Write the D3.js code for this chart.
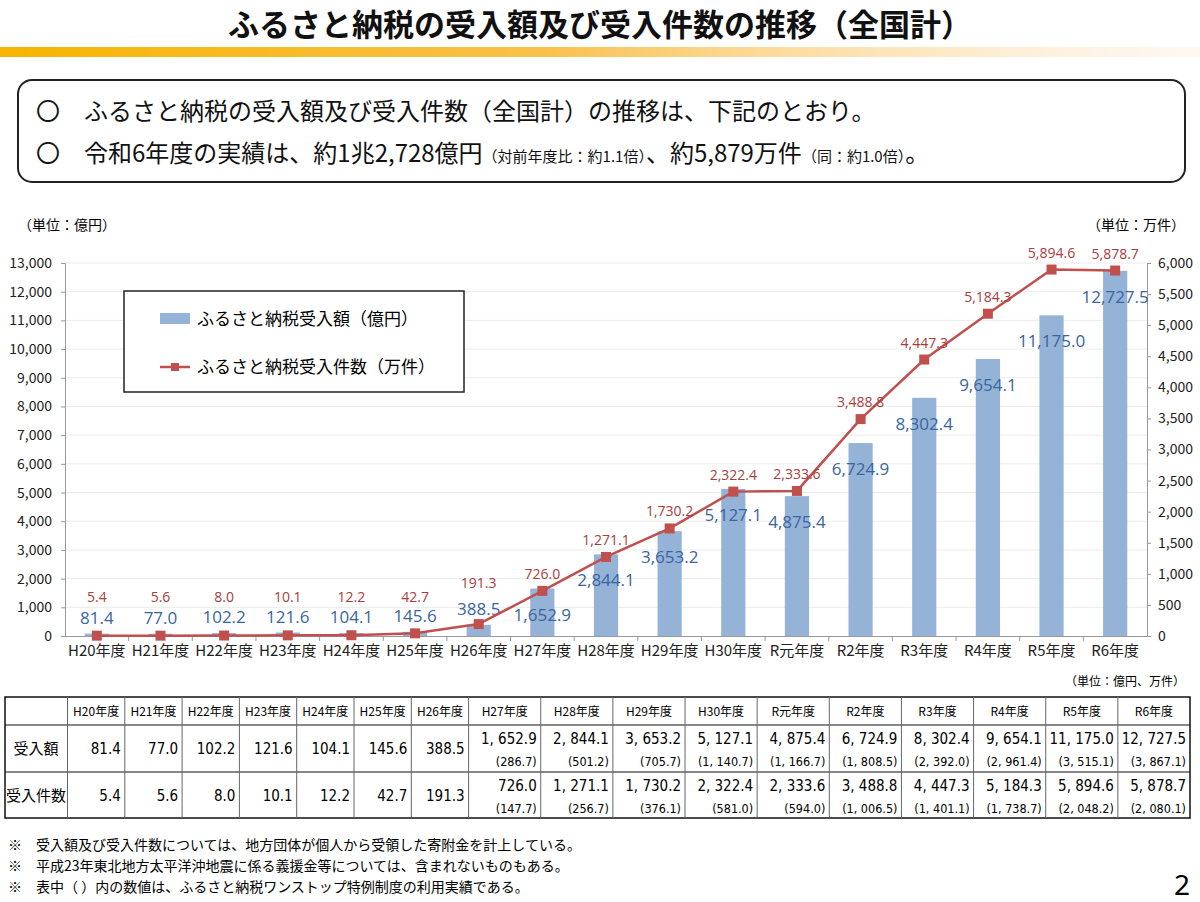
<!DOCTYPE html>
<html><head><meta charset="utf-8">
<script src="https://cdn.jsdelivr.net/npm/d3@7/dist/d3.min.js"></script>
<style>
body{margin:0;background:#fff;font-family:"Noto Sans CJK JP","Noto Sans",sans-serif;}
</style></head>
<body><div id="chart"></div>
<script>
// ふるさと納税 受入額・件数（全国計）
const data = [
  {year:'H20年度', amount:81.4,    count:5.4,    amountOs:null,   countOs:null},
  {year:'H21年度', amount:77.0,    count:5.6,    amountOs:null,   countOs:null},
  {year:'H22年度', amount:102.2,   count:8.0,    amountOs:null,   countOs:null},
  {year:'H23年度', amount:121.6,   count:10.1,   amountOs:null,   countOs:null},
  {year:'H24年度', amount:104.1,   count:12.2,   amountOs:null,   countOs:null},
  {year:'H25年度', amount:145.6,   count:42.7,   amountOs:null,   countOs:null},
  {year:'H26年度', amount:388.5,   count:191.3,  amountOs:null,   countOs:null},
  {year:'H27年度', amount:1652.9,  count:726.0,  amountOs:286.7,  countOs:147.7},
  {year:'H28年度', amount:2844.1,  count:1271.1, amountOs:501.2,  countOs:256.7},
  {year:'H29年度', amount:3653.2,  count:1730.2, amountOs:705.7,  countOs:376.1},
  {year:'H30年度', amount:5127.1,  count:2322.4, amountOs:1140.7, countOs:581.0},
  {year:'R元年度', amount:4875.4,  count:2333.6, amountOs:1166.7, countOs:594.0},
  {year:'R2年度',  amount:6724.9,  count:3488.8, amountOs:1808.5, countOs:1006.5},
  {year:'R3年度',  amount:8302.4,  count:4447.3, amountOs:2392.0, countOs:1401.1},
  {year:'R4年度',  amount:9654.1,  count:5184.3, amountOs:2961.4, countOs:1738.7},
  {year:'R5年度',  amount:11175.0, count:5894.6, amountOs:3515.1, countOs:2048.2},
  {year:'R6年度',  amount:12727.5, count:5878.7, amountOs:3867.1, countOs:2080.1}
];

const W = 1200, H = 902;
const svg = d3.select('#chart').append('svg').attr('width', W).attr('height', H);
const fmt = d3.format(',.1f');
const fmtTbl = v => fmt(v).replace(/,/g, ', ');

// ---- title & header bar
const grad = svg.append('defs').append('linearGradient').attr('id', 'bar');
grad.append('stop').attr('offset', '0%').attr('stop-color', '#f7b500');
grad.append('stop').attr('offset', '45%').attr('stop-color', '#f9c04a');
grad.append('stop').attr('offset', '100%').attr('stop-color', '#fde9d4').attr('stop-opacity', 0.3);
svg.append('rect').attr('x', 0).attr('y', 47).attr('width', W).attr('height', 10).attr('fill', 'url(#bar)');
svg.append('text').attr('x', 600).attr('y', 36).attr('text-anchor', 'middle')
  .attr('font-size', 31).attr('font-weight', 'bold').attr('fill', '#111')
  .text('ふるさと納税の受入額及び受入件数の推移（全国計）');

// ---- summary box
svg.append('rect').attr('x', 18).attr('y', 80).attr('width', 1167).attr('height', 102)
  .attr('rx', 14).attr('fill', '#fff').attr('stroke', '#222').attr('stroke-width', 2);
svg.append('text').attr('x', 36).attr('y', 120).attr('font-size', 24).attr('fill', '#111')
  .text('〇　ふるさと納税の受入額及び受入件数（全国計）の推移は、下記のとおり。');
const l2 = svg.append('text').attr('x', 36).attr('y', 162).attr('font-size', 24).attr('fill', '#111');
l2.append('tspan').text('〇　令和6年度の実績は、約1兆2,728億円');
l2.append('tspan').attr('font-size', 15).text('（対前年度比：約1.1倍）');
l2.append('tspan').text('、約5,879万件');
l2.append('tspan').attr('font-size', 15).text('（同：約1.0倍）');
l2.append('tspan').text('。');

// ---- chart
const m = {left: 65, right: 1147, top: 263, bottom: 636};
const x = d3.scaleBand().domain(data.map(d => d.year)).range([m.left, m.right]).paddingInner(0.62).paddingOuter(0.31);
const yL = d3.scaleLinear().domain([0, 13000]).range([m.bottom, m.top]);
const yR = d3.scaleLinear().domain([0, 6000]).range([m.bottom, m.top]);

svg.append('g').selectAll('line').data(yL.ticks(13).slice(1)).join('line')
  .attr('x1', m.left).attr('x2', m.right).attr('y1', d => yL(d)).attr('y2', d => yL(d))
  .attr('stroke', '#ececec');

const axL = svg.append('g').attr('transform', `translate(${m.left},0)`)
  .call(d3.axisLeft(yL).ticks(13).tickFormat(d3.format(',')).tickSize(4));
const axR = svg.append('g').attr('transform', `translate(${m.right},0)`)
  .call(d3.axisRight(yR).ticks(12).tickFormat(d3.format(',')).tickSize(4));
const axX = svg.append('g').attr('transform', `translate(0,${m.bottom})`)
  .call(d3.axisBottom(x).tickSize(0).tickPadding(9));
[axL, axR, axX].forEach(a => {
  a.selectAll('path,line').attr('stroke', '#999');
  a.selectAll('text').attr('font-size', 14).attr('fill', '#222').attr('font-family', 'Noto Sans CJK JP');
});
axX.selectAll('text').attr('font-size', 15);
axL.selectAll('text').attr('dx', -6);
axR.selectAll('text').attr('dx', 4);
// category separators
axX.selectAll('.sep').data(data.slice(1)).join('line').attr('class', 'sep')
  .attr('x1', d => x(d.year) - x.step() * x.paddingInner() / 2)
  .attr('x2', d => x(d.year) - x.step() * x.paddingInner() / 2)
  .attr('y1', 0).attr('y2', 5).attr('stroke', '#999');

svg.append('text').attr('x', 18).attr('y', 230).attr('font-size', 14).text('（単位：億円）');
svg.append('text').attr('x', 1185).attr('y', 230).attr('font-size', 14).attr('text-anchor', 'end').text('（単位：万件）');

// bars
svg.append('g').selectAll('rect').data(data).join('rect')
  .attr('x', d => x(d.year)).attr('width', x.bandwidth())
  .attr('y', d => yL(d.amount)).attr('height', d => yL(0) - yL(d.amount))
  .attr('fill', '#95b3d7');
svg.append('g').selectAll('text').data(data).join('text')
  .attr('x', d => x(d.year) + x.bandwidth() / 2)
  .attr('y', d => d.amount < 1000 ? Math.min(yL(d.amount) - 10, 628) : yL(d.amount) + 32)
  .attr('text-anchor', 'middle').attr('font-size', 17).attr('fill', '#3a65a0')
  .attr('font-family', 'Open Sans, sans-serif')
  .text(d => fmt(d.amount));

// line
const cx = d => x(d.year) + x.bandwidth() / 2;
svg.append('path').datum(data)
  .attr('d', d3.line().x(cx).y(d => yR(d.count)))
  .attr('fill', 'none').attr('stroke', '#c0504d').attr('stroke-width', 2.5);
svg.append('g').selectAll('rect').data(data).join('rect')
  .attr('x', d => cx(d) - 5).attr('y', d => yR(d.count) - 5).attr('width', 10).attr('height', 10)
  .attr('fill', '#c0504d');
svg.append('g').selectAll('text').data(data).join('text')
  .attr('x', cx)
  .attr('y', d => d.year === 'H26年度' ? 588 : Math.min(yR(d.count) - 12, 602))
  .attr('text-anchor', 'middle').attr('font-size', 14).attr('fill', '#a5403c')
  .attr('font-family', 'Open Sans, sans-serif')
  .text(d => fmt(d.count));

// legend
const lg = svg.append('g');
lg.append('rect').attr('x', 124).attr('y', 291).attr('width', 340).attr('height', 101)
  .attr('fill', '#fff').attr('stroke', '#222').attr('stroke-width', 1.5);
lg.append('rect').attr('x', 160).attr('y', 313).attr('width', 30).attr('height', 11).attr('fill', '#95b3d7');
lg.append('text').attr('x', 197).attr('y', 325).attr('font-size', 17).text('ふるさと納税受入額（億円）');
lg.append('line').attr('x1', 160).attr('x2', 190).attr('y1', 367).attr('y2', 367).attr('stroke', '#c0504d').attr('stroke-width', 2.5);
lg.append('rect').attr('x', 171).attr('y', 363).attr('width', 8).attr('height', 8).attr('fill', '#c0504d');
lg.append('text').attr('x', 197).attr('y', 373).attr('font-size', 17).text('ふるさと納税受入件数（万件）');

// ---- table
svg.append('text').attr('x', 1185).attr('y', 686).attr('font-size', 12).attr('text-anchor', 'end').text('（単位：億円、万件）');
const t = {left: 5, right: 1190, top: 697, head: 725, mid: 772, bottom: 818, first: 67.5, narrow: 57.3};
const edges = [t.left, t.first];
for (let i = 1; i <= 7; i++) edges.push(t.first + t.narrow * i);
const wide = (t.right - edges[8]) / 10;
for (let i = 1; i <= 10; i++) edges.push(edges[8] + wide * i);
const tg = svg.append('g');
tg.append('rect').attr('x', t.left).attr('y', t.top).attr('width', t.right - t.left).attr('height', t.bottom - t.top)
  .attr('fill', 'none').attr('stroke', '#111').attr('stroke-width', 1.5);
[t.head, t.mid].forEach(yy => tg.append('line').attr('x1', t.left).attr('x2', t.right).attr('y1', yy).attr('y2', yy).attr('stroke', '#111'));
edges.slice(1, -1).forEach(xx => tg.append('line').attr('x1', xx).attr('x2', xx).attr('y1', t.top).attr('y2', t.bottom).attr('stroke', '#666'));
tg.append('text').attr('x', 36).attr('y', 754).attr('text-anchor', 'middle').attr('font-size', 15).text('受入額');
tg.append('text').attr('x', 36).attr('y', 801).attr('text-anchor', 'middle').attr('font-size', 15).text('受入件数');
data.forEach((d, i) => {
  const x0 = edges[i + 1], x1 = edges[i + 2];
  tg.append('text').attr('x', (x0 + x1) / 2).attr('y', 716).attr('text-anchor', 'middle').attr('font-size', 12).text(d.year);
  const rows = [[d.amount, d.amountOs, t.head], [d.count, d.countOs, t.mid]];
  rows.forEach(([v, os, yy]) => {
    const txt = tg.append('text').attr('x', x1 - 4).attr('text-anchor', 'end').attr('font-size', 15)
      .attr('font-family', 'DejaVu Sans Condensed, sans-serif');
    if (os === null) {
      txt.attr('y', yy + 29).text(fmtTbl(v));
    } else {
      txt.attr('y', yy + 19).text(fmtTbl(v));
      tg.append('text').attr('x', x1 - 4).attr('y', yy + 41).attr('text-anchor', 'end').attr('font-size', 12.5)
        .attr('font-family', 'DejaVu Sans Condensed, sans-serif').text('(' + fmtTbl(os) + ')');
    }
  });
});

// ---- notes
const notes = ['※　受入額及び受入件数については、地方団体が個人から受領した寄附金を計上している。',
  '※　平成23年東北地方太平洋沖地震に係る義援金等については、含まれないものもある。',
  '※　表中（ ）内の数値は、ふるさと納税ワンストップ特例制度の利用実績である。'];
svg.append('g').selectAll('text').data(notes).join('text')
  .attr('x', 8).attr('y', (d, i) => 850 + i * 21).attr('font-size', 14).text(d => d);
svg.append('text').attr('x', 1174).attr('y', 895).attr('font-size', 28).attr('font-family', 'Noto Sans').text('2');
</script></body></html>
